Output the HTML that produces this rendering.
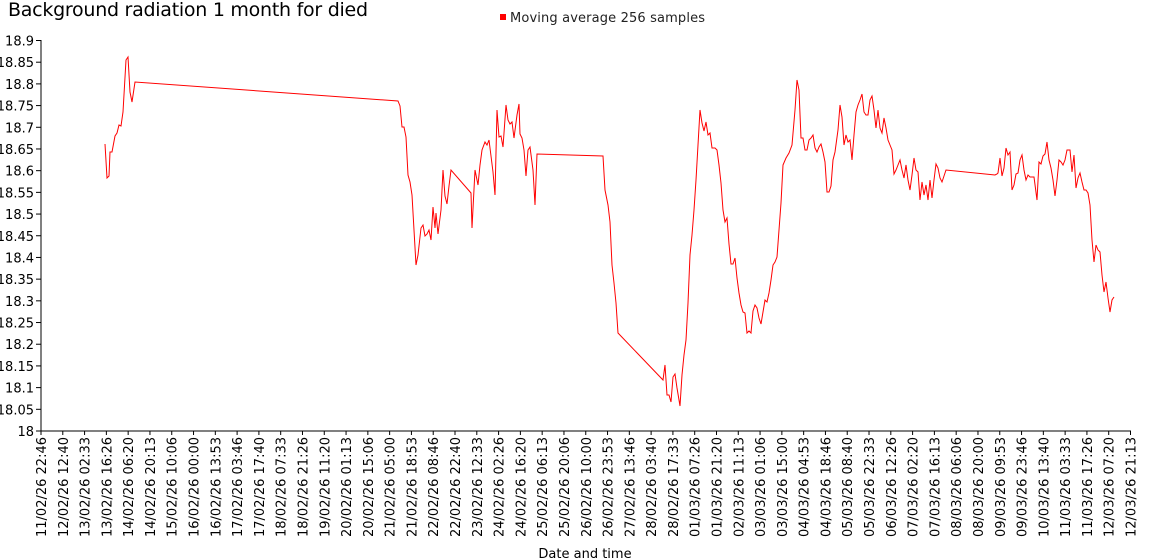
<!DOCTYPE html>
<html><head><meta charset="utf-8"><style>
html,body{margin:0;padding:0;background:#fff;width:1150px;height:560px;overflow:hidden}
svg{display:block;font-family:"DejaVu Sans",Verdana,sans-serif}
</style></head><body>
<svg id="s" width="1150" height="560" xmlns="http://www.w3.org/2000/svg">
<text x="8" y="16" font-size="19" fill="#000" textLength="360">Background radiation 1 month for died</text>
<rect x="500" y="14" width="6" height="6" fill="#f00"/>
<text x="510" y="22" font-size="13" fill="#222" textLength="195">Moving average 256 samples</text>
<line x1="41" y1="40" x2="41" y2="431" stroke="#000"/>
<line x1="41" y1="431" x2="1131" y2="431" stroke="#000"/>
<g id="ax"></g>
<polyline fill="none" stroke="#f00" stroke-width="1" points="105,144 107,178 109,176 110,152 112,152 115,136 117,133 119,125 121,126 123,112 126,60 128,57 130,92 132,102 135,82 398,101 400,106 402,127 404,127 406,137 408,175 410,182 412,195 416,265 418,255 421,228 423,225 425,236 427,234 429,230 431,240 433,207 435,228 436,213 438,234 441,210 443,170 445,196 447,204 449,186 451,170 471,193 472,228 475,170 478,185 480,165 482,150 485,142 487,145 489,140 493,172 495,195 497,110 499,137 501,136 503,147 506,105 508,120 510,124 512,122 514,138 517,115 519,104 520,134 522,138 524,150 526,176 528,150 530,147 533,170 535,205 537,154 603,156 605,190 608,205 610,222 612,265 614,283 616,303 618,333 663,380 665,365 667,395 669,395 671,402 673,377 675,374 677,388 680,406 682,375 684,355 686,340 688,303 690,255 692,235 694,210 696,180 698,145 700,110 702,123 704,131 706,122 708,135 710,133 712,148 715,148 717,150 719,165 721,183 723,210 725,222 727,218 729,244 731,264 733,264 735,258 737,278 739,293 741,305 743,312 745,313 747,333 749,331 751,333 753,311 755,305 757,308 759,318 761,324 763,312 765,300 767,302 769,293 771,280 773,265 775,262 777,257 779,230 781,203 783,165 786,158 789,153 792,145 795,110 797,80 799,90 801,138 803,138 805,150 807,150 809,140 811,138 813,135 815,148 817,152 819,147 821,144 823,152 825,162 827,192 829,192 831,186 833,160 835,152 838,130 840,105 842,117 844,145 846,135 848,142 850,140 852,160 854,135 856,112 858,105 860,100 862,94 864,112 866,115 868,115 870,100 872,96 874,110 876,128 878,110 880,128 882,133 884,118 886,128 888,140 890,145 892,150 894,174 896,170 898,165 900,160 902,170 904,178 906,165 908,180 910,190 912,175 914,158 916,170 918,172 920,200 922,182 924,195 926,185 928,200 930,180 932,198 934,180 936,164 938,168 940,178 942,182 946,170 995,175 997,174 998,173 1000,158 1002,176 1004,168 1006,148 1008,155 1010,152 1012,190 1014,185 1016,174 1018,173 1020,160 1022,155 1024,170 1026,180 1028,175 1030,177 1034,177 1037,200 1039,162 1041,164 1043,156 1045,154 1047,142 1049,160 1051,168 1053,180 1055,196 1057,180 1059,160 1061,162 1063,165 1065,160 1067,150 1070,150 1072,172 1074,155 1076,188 1078,178 1080,173 1082,182 1084,190 1086,190 1088,193 1090,205 1092,240 1094,262 1096,245 1098,250 1100,252 1102,275 1104,292 1106,282 1108,298 1110,312 1112,300 1114,297"/>
<text x="585" y="558" font-size="13" text-anchor="middle" fill="#000">Date and time</text>
</svg>
<script>
var g=document.getElementById('ax'),h='';
for(var i=0;i<=18;i++){var v=18+i*0.05,y=431-i*(390.5/18);
var t=(Math.round(v*100)/100).toString();
h+='<line x1="36" y1="'+y+'" x2="41" y2="'+y+'" stroke="#000"/>';
h+='<text x="34" y="'+(y+5)+'" font-size="13" text-anchor="end">'+t+'</text>';}
var start=Date.UTC(2026,1,11,22,46),step=(13*3600+53*60+20)*1000;
function p(n){return n<10?'0'+n:''+n}
for(var j=0;j<=50;j++){var x=41+j*(1089.5/50);var ms=Math.ceil((start+j*step)/60000)*60000;var d=new Date(ms);
var s=p(d.getUTCDate())+'/'+p(d.getUTCMonth()+1)+'/26 '+p(d.getUTCHours())+':'+p(d.getUTCMinutes());
h+='<line x1="'+x+'" y1="431" x2="'+x+'" y2="435" stroke="#000"/>';
h+='<text transform="translate('+(x+5)+',437) rotate(-90)" font-size="13" text-anchor="end">'+s+'</text>';}
g.innerHTML=h;
</script>
</body></html>
